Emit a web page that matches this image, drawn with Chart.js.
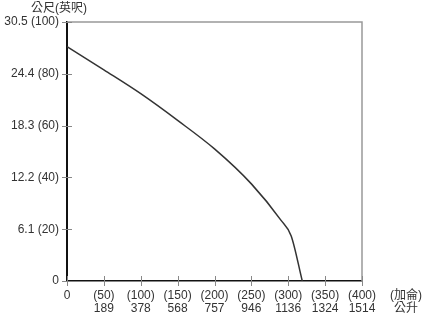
<!DOCTYPE html>
<html>
<head>
<meta charset="utf-8">
<script src="https://cdn.jsdelivr.net/npm/chart.js@4/dist/chart.umd.min.js"></script>
<style>
  html, body { margin: 0; padding: 0; background: #fff; }
  #wrap { position: relative; width: 422px; height: 315px; }
  .lbl { position: absolute; font-family: "Liberation Sans", "Noto Sans CJK TC", sans-serif; font-size: 12px; color: #333; line-height: 13px; }
</style>
</head>
<body>
<div id="wrap">
  <canvas id="chart" width="422" height="315"></canvas>
  <div class="lbl" style="left:31px;top:2px;">公尺(英呎)</div>
  <div class="lbl" style="left:390px;top:289px;text-align:center;">(加侖)<br>公升</div>
</div>
<script>
// pump curve: flow in gallons/min, head in feet
var flowGallons = [0, 50, 100, 150, 200, 250, 290, 304, 319];
var headFeet = [90.5, 81.5, 72.3, 62, 51, 37.5, 23.5, 17.4, 0];

// axis tick labels
var gallonTicks = [0, 50, 100, 150, 200, 250, 300, 350, 400];
var litreTicks = ['0', '189', '378', '568', '757', '946', '1136', '1324', '1514'];
var feetTicks = [0, 20, 40, 60, 80, 100];
var metreTicks = ['0', '6.1', '12.2', '18.3', '24.4', '30.5'];

var points = [];
for (var i = 0; i < flowGallons.length; i++) {
    points.push({x: flowGallons[i], y: headFeet[i]});
}

// tick marks that cross the axis lines, plus the grey top/right frame
var frameAndTicks = {
    id: 'frameAndTicks',
    afterDatasetsDraw: function (chart) {
        var ctx = chart.ctx;
        var area = chart.chartArea;
        var xs = chart.scales.x;
        var ys = chart.scales.y;

        ctx.save();
        ctx.strokeStyle = '#999';
        ctx.lineWidth = 1.5;
        ctx.beginPath();
        ctx.moveTo(area.left, area.top);
        ctx.lineTo(area.right, area.top);
        ctx.lineTo(area.right, area.bottom);
        ctx.stroke();

        ctx.strokeStyle = '#888';
        ctx.lineWidth = 1;
        ctx.beginPath();
        for (var i = 0; i < gallonTicks.length; i++) {
            var px = Math.round(xs.getPixelForValue(gallonTicks[i])) + 0.5;
            ctx.moveTo(px, area.bottom - 5);
            ctx.lineTo(px, area.bottom + 5);
        }
        for (var j = 0; j < feetTicks.length; j++) {
            var py = Math.round(ys.getPixelForValue(feetTicks[j])) + 0.5;
            ctx.moveTo(area.left - 5, py);
            ctx.lineTo(area.left + 5, py);
        }
        ctx.stroke();
        ctx.restore();
    }
};

new Chart(document.getElementById('chart'), {
    type: 'line',
    data: {
        datasets: [{
            data: points,
            borderColor: '#333',
            borderWidth: 1.5,
            pointRadius: 0,
            fill: false,
            cubicInterpolationMode: 'monotone'
        }]
    },
    options: {
        responsive: false,
        animation: false,
        layout: {padding: {left: 0, right: 60, top: 22, bottom: 0}},
        plugins: {legend: {display: false}, tooltip: {enabled: false}},
        scales: {
            x: {
                type: 'linear',
                min: 0,
                max: 400,
                afterFit: function (scale) { scale.height = 34; },
                afterBuildTicks: function (scale) {
                    scale.ticks = gallonTicks.map(function (v) { return {value: v}; });
                },
                grid: {display: false, drawTicks: false},
                border: {display: true, color: '#111', width: 1.5},
                ticks: {
                    padding: 8,
                    maxRotation: 0,
                    autoSkip: false,
                    color: '#333',
                    font: {family: '"Liberation Sans", Arial, sans-serif', size: 12, lineHeight: 1.1},
                    callback: function (value) {
                        var k = gallonTicks.indexOf(value);
                        if (value === 0) return '0';
                        return ['(' + value + ')', litreTicks[k]];
                    }
                }
            },
            y: {
                type: 'linear',
                min: 0,
                max: 100,
                afterFit: function (scale) { scale.width = 67; },
                afterBuildTicks: function (scale) {
                    scale.ticks = feetTicks.map(function (v) { return {value: v}; });
                },
                grid: {display: false, drawTicks: false},
                border: {display: true, color: '#111', width: 2},
                ticks: {
                    padding: 8,
                    color: '#333',
                    font: {family: '"Liberation Sans", Arial, sans-serif', size: 12},
                    callback: function (value) {
                        var k = feetTicks.indexOf(value);
                        if (value === 0) return '0';
                        return metreTicks[k] + ' (' + value + ')';
                    }
                }
            }
        }
    },
    plugins: [frameAndTicks]
});
</script>
</body>
</html>
